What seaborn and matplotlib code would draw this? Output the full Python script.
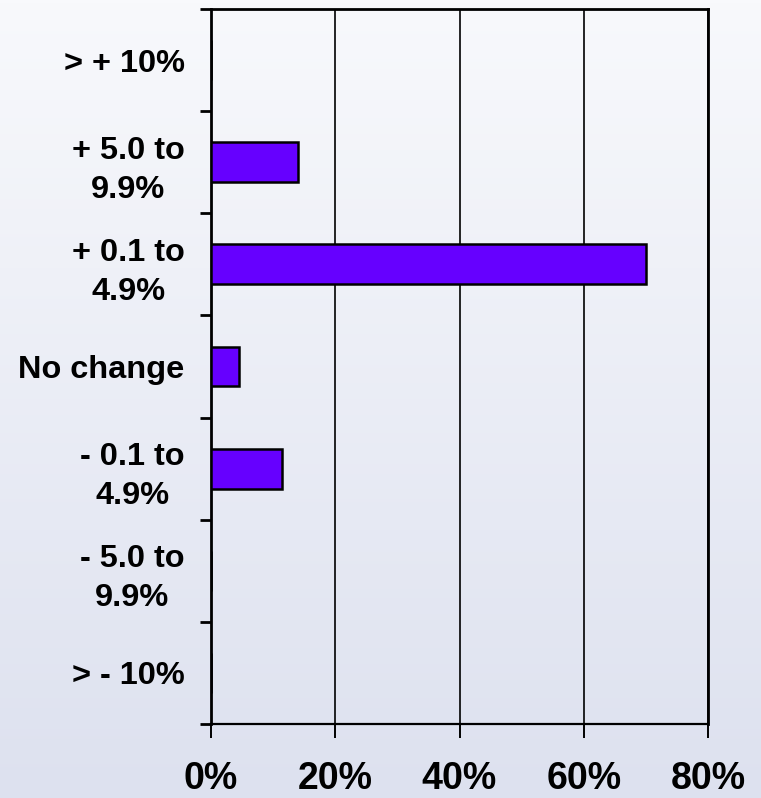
import numpy as np
import pandas as pd
import matplotlib
matplotlib.use("Agg")
import matplotlib.pyplot as plt
import seaborn as sns
from matplotlib.ticker import FixedLocator, FuncFormatter

categories = ["> + 10%", "+ 5.0 to\n9.9%", "+ 0.1 to\n4.9%", "No change",
              "- 0.1 to\n4.9%", "- 5.0 to\n9.9%", "> - 10%"]
values = [0.0, 14.0, 70.0, 4.5, 11.5, 0.0, 0.0]
xticks = [0, 20, 40, 60, 80]

sns.set_style("white")
plt.rcParams["font.family"] = ["Liberation Sans", "DejaVu Sans"]
plt.rcParams["font.weight"] = "bold"
plt.rcParams["text.color"] = "black"
plt.rcParams["xtick.color"] = "black"
plt.rcParams["ytick.color"] = "black"
plt.rcParams["xtick.labelcolor"] = "black"
plt.rcParams["ytick.labelcolor"] = "black"

df = pd.DataFrame({"category": categories, "value": values})

fig = plt.figure(figsize=(7.61, 7.98), dpi=100)

# gradient background
bg = fig.add_axes([0, 0, 1, 1], zorder=-10)
top = np.array([0xF8, 0xF9, 0xFC]) / 255.0
bot = np.array([0xDD, 0xE1, 0xEF]) / 255.0
t = np.linspace(0, 1, 256)[:, None]
grad = (top[None, :] * (1 - t) + bot[None, :] * t)[:, None, :]
bg.imshow(grad, aspect="auto", extent=[0, 1, 0, 1])
bg.axis("off")

ax = fig.add_axes([211 / 761, 1 - 724 / 798, (708 - 211) / 761, (724 - 9) / 798])
ax.set_facecolor("none")

sns.barplot(data=df, y="category", x="value", orient="h", ax=ax,
            color="#6600ff", saturation=1, width=0.39,
            edgecolor="black", linewidth=1.8, zorder=3)

ax.set_xlim(0, 80)
ax.set_ylim(len(categories) - 0.5, -0.5)
ax.set_xlabel("")
ax.set_ylabel("")

ax.set_xticks(xticks)
ax.xaxis.set_major_formatter(FuncFormatter(lambda v, p: f"{int(v)}%"))
ax.tick_params(axis="x", which="major", direction="out", length=10, width=1.4,
               color="black", labelcolor="black", labelsize=27, pad=16.5, bottom=True)
for lab in ax.get_xticklabels():
    lab.set_fontweight("bold")

ax.set_yticks(range(len(categories)))
ax.set_yticklabels(categories, fontsize=23.4, fontweight="bold", color="black",
                   multialignment="center", linespacing=1.4)
ax.tick_params(axis="y", which="major", length=0, pad=19, left=False)
ax.yaxis.set_minor_locator(FixedLocator(np.arange(-0.5, len(categories), 1.0)))
ax.tick_params(axis="y", which="minor", direction="out", length=8, width=2,
               color="black", left=True)

ax.grid(axis="x", color="black", linewidth=1.2, zorder=0)
ax.grid(axis="y", visible=False)
ax.set_axisbelow(True)
for side in ["left", "top", "right", "bottom"]:
    ax.spines[side].set_visible(True)
    ax.spines[side].set_color("black")
ax.spines["left"].set_linewidth(2.0)
ax.spines["top"].set_linewidth(2.0)
ax.spines["bottom"].set_linewidth(1.6)
ax.spines["right"].set_linewidth(2.0)

fig.savefig("out.png", dpi=100)
